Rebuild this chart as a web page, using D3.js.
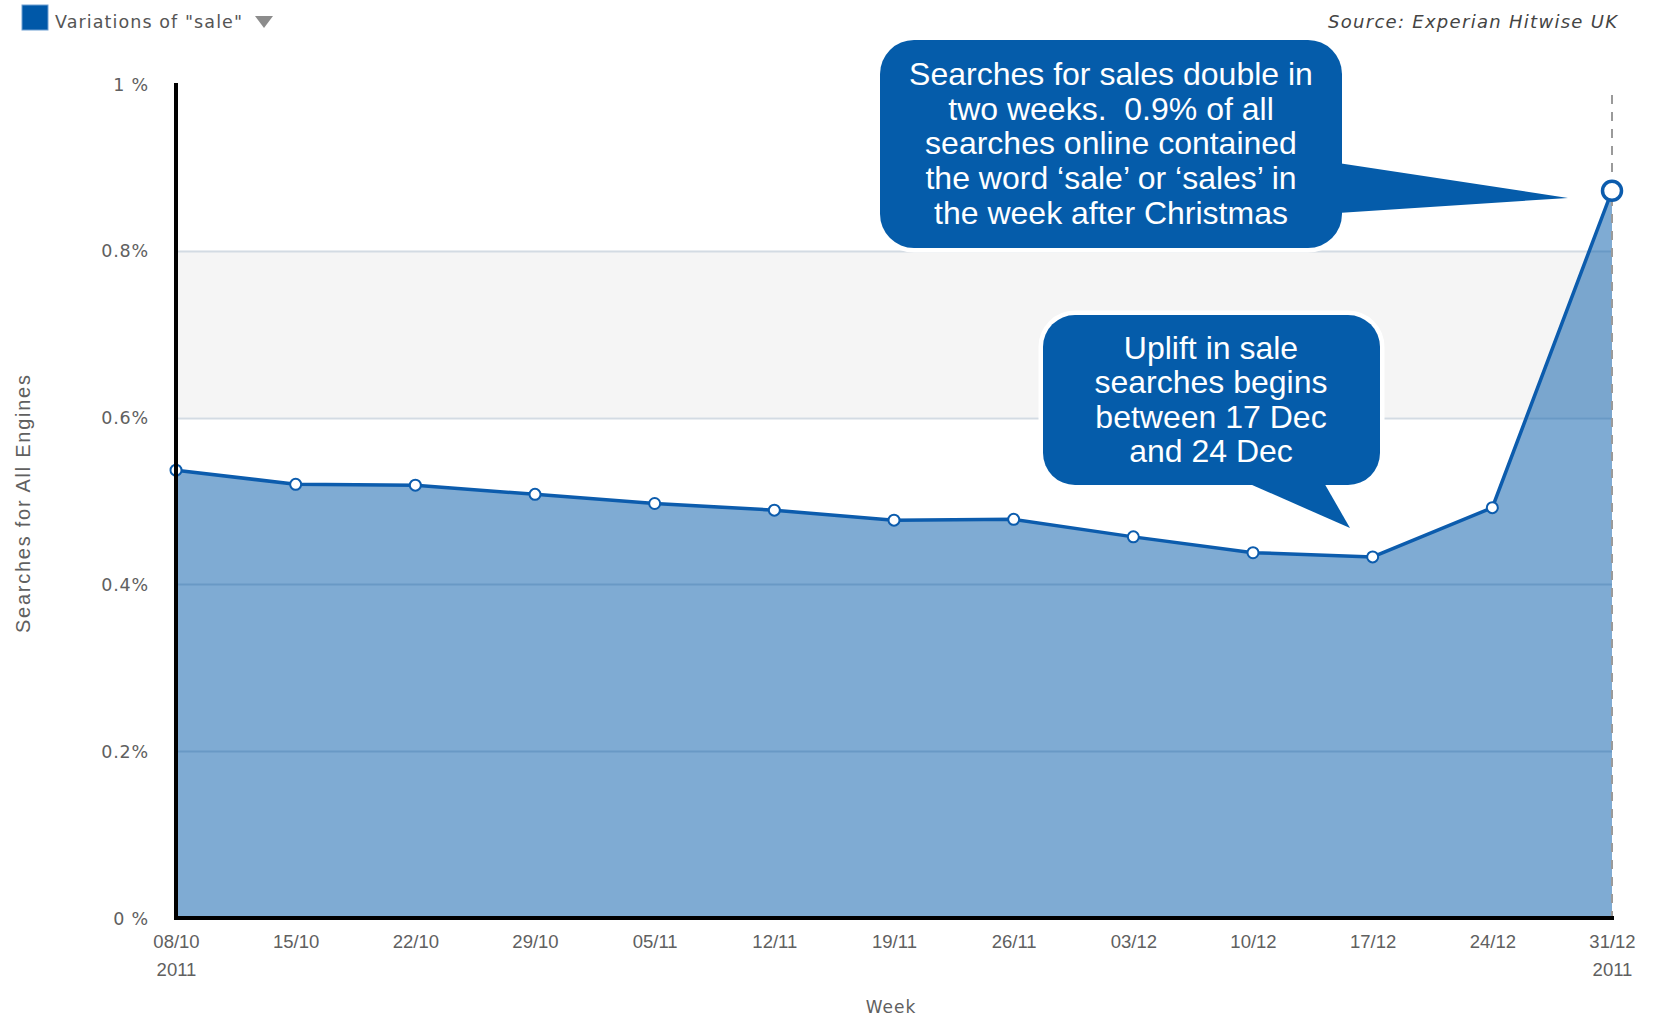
<!DOCTYPE html>
<html>
<head>
<meta charset="utf-8">
<script src="https://cdn.jsdelivr.net/npm/d3@7"></script>
<style>
  html, body { margin: 0; padding: 0; background: #fff; }
  svg { display: block; }
</style>
</head>
<body>
<svg id="chart" width="1654" height="1017"></svg>
<script>
// Weekly share of searches containing "sale" / "sales", UK, Oct–Dec 2011
const weeks = ["08/10", "15/10", "22/10", "29/10", "05/11", "12/11", "19/11",
               "26/11", "03/12", "10/12", "17/12", "24/12", "31/12"];
const shareValues = [0.537, 0.520, 0.519, 0.508, 0.497, 0.489, 0.477,
                     0.478, 0.457, 0.438, 0.433, 0.492, 0.872];
const yTickValues = [0, 0.2, 0.4, 0.6, 0.8, 1];
const yTickLabels = ["0 %", "0.2%", "0.4%", "0.6%", "0.8%", "1 %"];
const yearLabel = "2011";
const bandRange = [0.6, 0.8];

const calloutPeak = ["Searches for sales double in",
                     "two weeks.  0.9% of all",
                     "searches online contained",
                     "the word \u2018sale\u2019 or \u2018sales\u2019 in",
                     "the week after Christmas"];
const calloutUplift = ["Uplift in sale",
                       "searches begins",
                       "between 17 Dec",
                       "and 24 Dec"];

const svg = d3.select("#chart");

const x = d3.scalePoint().domain(weeks).range([176, 1612]);
const y = d3.scaleLinear().domain([0, 1]).range([918, 84]);

const data = weeks.map((w, i) => ({ week: w, value: shareValues[i] }));

// Plot band between 0.6% and 0.8%
svg.append("rect")
  .attr("x", x.range()[0])
  .attr("y", y(bandRange[1]))
  .attr("width", x.range()[1] - x.range()[0])
  .attr("height", y(bandRange[0]) - y(bandRange[1]))
  .attr("fill", "#f5f5f5");

// Horizontal grid lines
svg.append("g")
  .selectAll("line")
  .data(yTickValues.filter(v => v > 0 && v < 1))
  .join("line")
  .attr("x1", x.range()[0])
  .attr("x2", x.range()[1])
  .attr("y1", d => Math.round(y(d)) + 0.5)
  .attr("y2", d => Math.round(y(d)) + 0.5)
  .attr("stroke", "#d3dbe3")
  .attr("stroke-width", 2);

// Area under the series
const area = d3.area()
  .x(d => x(d.week))
  .y0(y(0))
  .y1(d => y(d.value));

svg.append("path")
  .datum(data)
  .attr("d", area)
  .attr("fill", "#0058a8")
  .attr("fill-opacity", 0.5);

// Dashed crosshair on the last week
const lastWeek = weeks[weeks.length - 1];
svg.append("line")
  .attr("x1", x(lastWeek)).attr("x2", x(lastWeek))
  .attr("y1", 95).attr("y2", y(0))
  .attr("stroke", "#9a9a9a")
  .attr("stroke-width", 2)
  .attr("stroke-dasharray", "9,8");

// Series line
const line = d3.line()
  .x(d => x(d.week))
  .y(d => y(d.value));

svg.append("path")
  .datum(data)
  .attr("d", line)
  .attr("fill", "none")
  .attr("stroke", "#0c5cad")
  .attr("stroke-width", 3.5)
  .attr("stroke-linejoin", "round");

// Point markers (last one highlighted)
svg.append("g")
  .selectAll("circle")
  .data(data)
  .join("circle")
  .attr("cx", d => x(d.week))
  .attr("cy", d => y(d.value))
  .attr("r", (d, i) => i === data.length - 1 ? 9.5 : 5.5)
  .attr("fill", "#fff")
  .attr("stroke", "#0c5cad")
  .attr("stroke-width", (d, i) => i === data.length - 1 ? 3.5 : 2);

// Axis lines
svg.append("line")
  .attr("x1", x.range()[0]).attr("x2", x.range()[0])
  .attr("y1", 83).attr("y2", y(0) + 2)
  .attr("stroke", "#000").attr("stroke-width", 4);
svg.append("line")
  .attr("x1", x.range()[0] - 2).attr("x2", x.range()[1] + 2)
  .attr("y1", y(0)).attr("y2", y(0))
  .attr("stroke", "#000").attr("stroke-width", 4);

// Y axis labels
const yAxis = d3.axisLeft(y)
  .tickValues(yTickValues)
  .tickSize(0)
  .tickPadding(0)
  .tickFormat((d, i) => yTickLabels[i]);

const gy = svg.append("g")
  .attr("transform", "translate(149,0)")
  .call(yAxis);
gy.select(".domain").remove();
gy.selectAll("text")
  .attr("font-family", "DejaVu Sans, Verdana, sans-serif")
  .attr("font-size", 17.5)
  .attr("letter-spacing", 0.8)
  .attr("fill", "#606060")
  .attr("dy", "0.35em");

// X axis labels
const xAxis = d3.axisBottom(x).tickSize(0).tickPadding(0);
const gx = svg.append("g")
  .attr("transform", "translate(0,948)")
  .call(xAxis);
gx.select(".domain").remove();
gx.selectAll("text")
  .attr("font-family", "Liberation Sans, Arial, sans-serif")
  .attr("font-size", 18.5)
  .attr("fill", "#606060")
  .attr("y", 0)
  .attr("dy", 0);
gx.selectAll(".tick")
  .filter((d, i) => i === 0 || i === weeks.length - 1)
  .append("text")
  .attr("y", 28)
  .attr("text-anchor", "middle")
  .attr("font-family", "Liberation Sans, Arial, sans-serif")
  .attr("font-size", 18.5)
  .attr("fill", "#606060")
  .text(yearLabel);

// Axis titles
svg.append("text")
  .attr("x", 891).attr("y", 1013)
  .attr("text-anchor", "middle")
  .attr("font-family", "DejaVu Sans, Verdana, sans-serif")
  .attr("font-size", 17)
  .attr("letter-spacing", 1)
  .attr("fill", "#606060")
  .text("Week");

svg.append("text")
  .attr("transform", "translate(30,504) rotate(-90)")
  .attr("text-anchor", "middle")
  .attr("font-family", "Liberation Sans, Arial, sans-serif")
  .attr("font-size", 20)
  .attr("textLength", 258)
  .attr("lengthAdjust", "spacing")
  .attr("fill", "#606060")
  .text("Searches for All Engines");

// Legend
svg.append("rect")
  .attr("x", 22).attr("y", 5)
  .attr("width", 26).attr("height", 25)
  .attr("fill", "#0058a8")
  .attr("stroke", "#6f9fd2")
  .attr("stroke-width", 1);
svg.append("text")
  .attr("x", 55).attr("y", 28)
  .attr("font-family", "DejaVu Sans, Verdana, sans-serif")
  .attr("font-size", 17.5)
  .attr("textLength", 187)
  .attr("lengthAdjust", "spacing")
  .attr("fill", "#555")
  .text("Variations of \"sale\"");
svg.append("path")
  .attr("d", "M255,16 L273,16 L264,28 Z")
  .attr("fill", "#8c8c8c");

// Source note
svg.append("text")
  .attr("x", 1328).attr("y", 28)
  .attr("font-family", "DejaVu Sans, Verdana, sans-serif")
  .attr("font-style", "italic")
  .attr("font-size", 18)
  .attr("textLength", 289)
  .attr("lengthAdjust", "spacing")
  .attr("fill", "#444")
  .text("Source: Experian Hitwise UK");

// Callout bubbles
function roundedRectPath(x0, y0, x1, y1, r) {
  return `M${x0 + r},${y0} H${x1 - r} A${r},${r} 0 0 1 ${x1},${y0 + r}` +
         ` V${y1 - r} A${r},${r} 0 0 1 ${x1 - r},${y1}` +
         ` H${x0 + r} A${r},${r} 0 0 1 ${x0},${y1 - r}` +
         ` V${y0 + r} A${r},${r} 0 0 1 ${x0 + r},${y0} Z`;
}

function callout(box, tail, lines, textX, firstBaseline, lineHeight) {
  const g = svg.append("g");
  const shapes = [roundedRectPath(box[0], box[1], box[2], box[3], box[4]),
                  "M" + tail.map(p => p.join(",")).join(" L") + " Z"];
  // white halo
  g.selectAll("path.halo").data(shapes).join("path")
    .attr("class", "halo")
    .attr("d", d => d)
    .attr("fill", "#fff")
    .attr("stroke", "#fff")
    .attr("stroke-width", 9)
    .attr("stroke-linejoin", "round");
  g.selectAll("path.body").data(shapes).join("path")
    .attr("class", "body")
    .attr("d", d => d)
    .attr("fill", "#055caa");
  g.selectAll("text").data(lines).join("text")
    .attr("x", textX)
    .attr("y", (d, i) => firstBaseline + i * lineHeight)
    .attr("text-anchor", "middle")
    .attr("font-family", "Liberation Sans, Arial, sans-serif")
    .attr("font-size", 32)
    .attr("fill", "#fff")
    .attr("xml:space", "preserve")
    .style("white-space", "pre")
    .text(d => d);
}

callout([880, 40, 1342, 248, 34],
        [[1338, 163], [1568, 198], [1338, 213]],
        calloutPeak, 1111, 85, 34.7);

callout([1043, 315, 1380, 485, 32],
        [[1243, 481], [1350, 528], [1323, 481]],
        calloutUplift, 1211, 359, 34.3);
</script>
</body>
</html>
